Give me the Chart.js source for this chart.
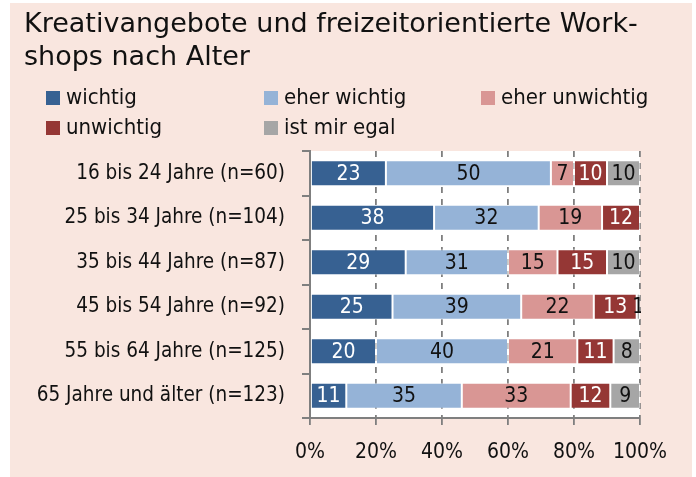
<!DOCTYPE html>
<html>
<head>
<meta charset="utf-8">
<script src="https://cdn.jsdelivr.net/npm/chart.js@4"></script>
<style>
    html, body { margin: 0; padding: 0; background: #fff; }
    canvas { display: block; }
</style>
</head>
<body>
<canvas id="chart" width="696" height="477"></canvas>
<script>
const titleLines = ["Kreativangebote und freizeitorientierte Work-", "shops nach Alter"];
const categories = [
    "16 bis 24 Jahre (n=60)",
    "25 bis 34 Jahre (n=104)",
    "35 bis 44 Jahre (n=87)",
    "45 bis 54 Jahre (n=92)",
    "55 bis 64 Jahre (n=125)",
    "65 Jahre und älter (n=123)"
];
const seriesNames = ["wichtig", "eher wichtig", "eher unwichtig", "unwichtig", "ist mir egal"];
const wichtig = [23, 37.6, 29, 25, 20, 11];
const eherWichtig = [50, 31.7, 31, 39, 40, 35];
const eherUnwichtig = [7, 19.2, 15, 22, 21, 33];
const unwichtig = [10, 11.5, 15, 13, 11, 12];
const egal = [10, 0, 10, 1, 8, 9];
const xTicks = [0, 20, 40, 60, 80, 100];

const colors = ["#376192", "#95B3D7", "#D99694", "#953735", "#A6A6A6"];
const labelColors = ["#fff", "#111", "#111", "#fff", "#111"];
const FONT = "'DejaVu Sans Condensed', sans-serif";
const PINK = "#F9E6DF";
const GRAY = "#7F7F7F";

const seriesValues = [wichtig, eherWichtig, eherUnwichtig, unwichtig, egal];

const backdrop = {
    id: "backdrop",
    beforeDraw(chart) {
        const ctx = chart.ctx;
        const area = chart.chartArea;
        ctx.save();
        ctx.fillStyle = "#fff";
        ctx.fillRect(0, 0, chart.width, chart.height);
        ctx.fillStyle = PINK;
        ctx.fillRect(10, 3, 682, chart.height - 3);
        ctx.fillStyle = "#fff";
        ctx.fillRect(area.left, area.top, area.right - area.left, area.bottom - area.top);

        // title
        ctx.fillStyle = "#111";
        ctx.font = "27px 'DejaVu Sans', sans-serif";
        ctx.textBaseline = "alphabetic";
        ctx.textAlign = "left";
        ctx.fillText(titleLines[0], 24, 32);
        ctx.fillText(titleLines[1], 24, 65);

        // legend, 3 columns
        const colX = [46, 264, 481];
        const rowY = [98, 128];
        ctx.font = "22px " + FONT;
        ctx.textBaseline = "middle";
        chart.data.datasets.forEach((ds, i) => {
            const x = colX[i % 3];
            const y = rowY[Math.floor(i / 3)];
            ctx.fillStyle = ds.backgroundColor;
            ctx.fillRect(x, y - 7, 14, 14);
            ctx.fillStyle = "#111";
            ctx.fillText(ds.label, x + 20, y);
        });
        ctx.restore();
    }
};

const valueLabels = {
    id: "valueLabels",
    afterDatasetsDraw(chart) {
        const ctx = chart.ctx;
        const area = chart.chartArea;
        ctx.save();
        ctx.beginPath();
        ctx.rect(area.left, area.top, area.right - area.left + 1, area.bottom - area.top);
        ctx.clip();
        ctx.font = "21px " + FONT;
        ctx.textAlign = "center";
        ctx.textBaseline = "middle";
        chart.data.datasets.forEach((ds, i) => {
            const meta = chart.getDatasetMeta(i);
            meta.data.forEach((bar, j) => {
                const v = ds.data[j];
                if (v < 0.5) return;
                const p = bar.getProps(["x", "y", "base"], true);
                ctx.fillStyle = labelColors[i];
                ctx.fillText(Math.round(v), (p.x + p.base) / 2, p.y + 1);
            });
        });
        ctx.restore();
    }
};

new Chart(document.getElementById("chart"), {
    type: "bar",
    data: {
        labels: categories,
        datasets: seriesValues.map((vals, i) => ({
            label: seriesNames[i],
            data: vals,
            backgroundColor: colors[i],
            borderColor: "rgba(255,255,255,0.55)",
            borderWidth: 1,
            borderSkipped: false,
            barPercentage: 0.585,
            categoryPercentage: 1
        }))
    },
    options: {
        indexAxis: "y",
        responsive: false,
        devicePixelRatio: 1,
        animation: false,
        layout: { padding: { top: 151, left: 0, right: 56, bottom: 0 } },
        plugins: {
            legend: { display: false },
            tooltip: { enabled: false }
        },
        scales: {
            x: {
                stacked: true,
                min: 0,
                max: 100,
                afterBuildTicks: (scale) => {
                    scale.ticks = xTicks.map(v => ({ value: v }));
                },
                afterFit: (scale) => { scale.height = 59; },
                grid: {
                    color: GRAY,
                    lineWidth: 1.8,
                    tickLength: 8,
                    drawTicks: true,
                    tickBorderDash: [6, 6]
                },
                border: { display: true, color: GRAY, width: 2, dash: [6, 6] },
                ticks: {
                    padding: 14,
                    autoSkip: false,
                    maxRotation: 0,
                    color: "#111",
                    font: { family: FONT, size: 21 },
                    callback: (v) => v + "%"
                }
            },
            y: {
                stacked: true,
                afterFit: (scale) => { scale.width = 310; },
                grid: {
                    offset: true,
                    drawOnChartArea: false,
                    drawTicks: true,
                    tickLength: 8,
                    color: GRAY,
                    lineWidth: 2
                },
                border: { display: true, color: GRAY, width: 2 },
                ticks: {
                    padding: 17,
                    color: "#111",
                    font: { family: FONT, size: 20.5 }
                }
            }
        }
    },
    plugins: [backdrop, valueLabels]
});
</script>
</body>
</html>
